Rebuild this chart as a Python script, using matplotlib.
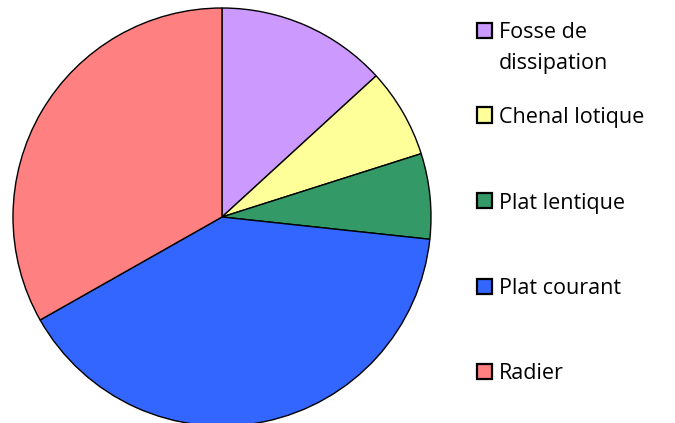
from matplotlib import pyplot as plt
from matplotlib.patches import Rectangle

labels = ['Fosse de\ndissipation', 'Chenal lotique', 'Plat lentique', 'Plat courant', 'Radier']
values = [13.2, 6.9, 6.6, 40.1, 33.2]
colors = ['#CC99FF', '#FFFF99', '#339966', '#3366FF', '#FF8080']

W, H = 675, 423
fig = plt.figure(figsize=(W / 100, H / 100), dpi=100)

# pie: centre (222, 217) px, radius 209 px
cx, cy, r = 222, 217, 209
ax = fig.add_axes([(cx - r) / W, (H - cy - r) / H, 2 * r / W, 2 * r / H])
ax.pie(values, colors=colors, startangle=90, counterclock=False,
       wedgeprops=dict(edgecolor='black', linewidth=1))
ax.set_xlim(-1, 1)
ax.set_ylim(-1, 1)
ax.set_aspect('equal')
ax.axis('off')

# legend by hand (uneven spacing in the reference)
legend_y = [31, 115, 201, 286, 371]
for lab, col, y in zip(labels, colors, legend_y):
    fig.patches.append(Rectangle((477 / W, (H - y - 7.5) / H), 15 / W, 15 / H,
                                 transform=fig.transFigure, facecolor=col,
                                 edgecolor='black', linewidth=1.6))
    for i, line in enumerate(lab.split('\n')):
        fig.text(499 / W, (H - y - 2 - 30 * i) / H, line, ha='left', va='center',
                 fontsize=15.5, family=['Open Sans', 'DejaVu Sans'])

fig.savefig('out.png', dpi=100)
